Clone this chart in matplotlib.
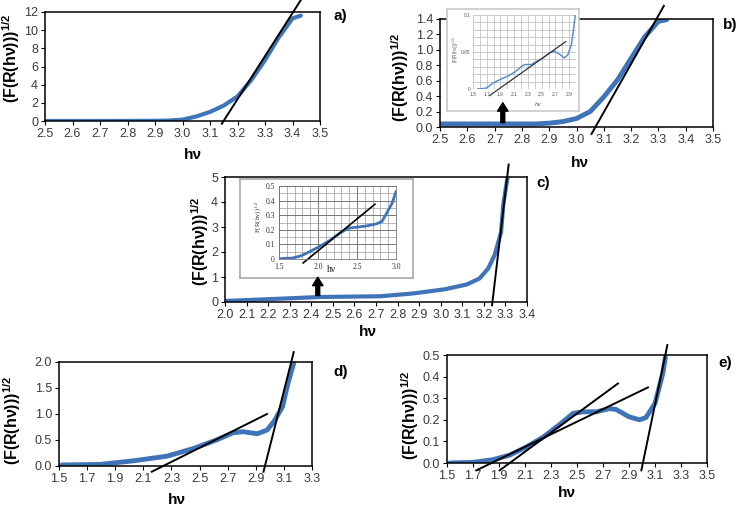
import matplotlib
matplotlib.use('Agg')
import matplotlib.pyplot as plt
from matplotlib.patches import FancyArrowPatch
import numpy as np

plt.rcParams.update({'font.family': ['Liberation Sans', 'DejaVu Sans'], 'font.size': 9})

W, H = 741, 508

# panel a
a_x = [2.5, 2.7, 2.9, 2.95, 3.0, 3.05, 3.1, 3.15, 3.2, 3.25, 3.3, 3.35, 3.4, 3.43]
a_y = [0.0, 0.0, 0.02, 0.05, 0.15, 0.5, 1.0, 1.7, 2.7, 4.5, 6.7, 9.2, 11.3, 11.6]
a_tan_x = [3.143, 3.43]
a_tan_y = [-0.3, 13.3]

# panel b
b_x = [2.5, 2.7, 2.85, 2.9, 2.95, 3.0, 3.05, 3.1, 3.15, 3.2, 3.25, 3.3, 3.33]
b_y = [0.04, 0.04, 0.04, 0.05, 0.07, 0.11, 0.2, 0.39, 0.61, 0.89, 1.17, 1.37, 1.39]
b_tan_x = [3.055, 3.32]
b_tan_y = [-0.09, 1.57]
b_in_x = [1.57, 1.69, 1.79, 1.91, 2.01, 2.11, 2.2, 2.25, 2.35, 2.42, 2.52, 2.62, 2.69, 2.76, 2.83, 2.88, 2.93, 2.96, 2.99]
b_in_y = [0.0, 0.001, 0.008, 0.0135, 0.0175, 0.023, 0.030, 0.033, 0.033, 0.037, 0.042, 0.049, 0.051, 0.047, 0.042, 0.046, 0.059, 0.077, 0.1]
b_in_tan_x = [1.74, 2.85]
b_in_tan_y = [-0.009, 0.064]
b_arrow = (2.73, 0.02, 0.35)

# panel c
c_x = [2.0, 2.25, 2.44, 2.72, 2.87, 3.02, 3.12, 3.18, 3.22, 3.25, 3.28, 3.29, 3.31]
c_y = [0.04, 0.13, 0.2, 0.23, 0.34, 0.51, 0.7, 0.94, 1.34, 1.88, 2.8, 3.9, 5.0]
c_tan_x = [3.238, 3.315]
c_tan_y = [-0.13, 5.5]
c_in_x = [1.5, 1.68, 1.79, 1.9, 2.02, 2.15, 2.28, 2.39, 2.5, 2.63, 2.75, 2.82, 2.88, 2.95, 3.0]
c_in_y = [0.002, 0.007, 0.023, 0.052, 0.086, 0.127, 0.177, 0.211, 0.218, 0.227, 0.241, 0.257, 0.314, 0.382, 0.461]
c_in_tan_x = [1.81, 2.73]
c_in_tan_y = [-0.027, 0.375]
c_arrow = (2.43, 0.15, 1.1)

# panel d
d_x = [1.52, 1.79, 2.03, 2.27, 2.46, 2.62, 2.74, 2.81, 2.91, 2.98, 3.03, 3.09, 3.13, 3.17]
d_y = [0.02, 0.03, 0.1, 0.19, 0.34, 0.5, 0.64, 0.66, 0.62, 0.69, 0.86, 1.14, 1.6, 1.98]
d_tan1_x = [2.16, 2.98]
d_tan1_y = [-0.11, 1.0]
d_tan2_x = [2.955, 3.17]
d_tan2_y = [-0.11, 2.19]

# panel e
e_x = [1.52, 1.7, 1.85, 1.98, 2.11, 2.24, 2.37, 2.47, 2.55, 2.65, 2.75, 2.8, 2.9, 2.98, 3.03, 3.1, 3.16, 3.18]
e_y = [0.0, 0.003, 0.015, 0.036, 0.074, 0.12, 0.18, 0.23, 0.237, 0.237, 0.252, 0.248, 0.214, 0.2, 0.21, 0.276, 0.415, 0.49]
e_tan1_x = [1.726, 3.046]
e_tan1_y = [-0.034, 0.35]
e_tan2_x = [1.905, 2.815]
e_tan2_y = [-0.034, 0.368]
e_tan3_x = [2.995, 3.195]
e_tan3_y = [-0.034, 0.546]

BLUE = '#3f74b8'
TICK_C = '#3a3a3a'
YLAB = r'(F(R(hν)))$\mathregular{^{1/2}}$'

fig = plt.figure(figsize=(W / 100, H / 100), dpi=100)


def box(l, r, t, b, z=0):
    ax = fig.add_axes([l / W, 1 - b / H, (r - l) / W, (b - t) / H])
    ax.set_zorder(z)
    return ax


def style_main(ax, xt, xlim, yt, ylim, yfmt):
    ax.set_xlim(*xlim)
    ax.set_ylim(*ylim)
    ax.set_xticks(xt)
    ax.set_xticklabels(['%.1f' % v for v in xt])
    ax.set_yticks(yt)
    ax.set_yticklabels([yfmt % v for v in yt])
    ax.tick_params(length=3, width=0.8, pad=2, labelsize=9, colors='black', labelcolor=TICK_C)
    for s in ax.spines.values():
        s.set_linewidth(1.1)


def tangent(ax, xs, ys):
    ax.plot(xs, ys, color='black', lw=1.4, clip_on=False, zorder=4)


def px(x, y):
    return x / W, 1 - y / H


def labels(ax, ylx, yly, xlx, xly, tag, tx, ty):
    fig.text(*px(ylx, yly), YLAB, rotation=90, ha='center', va='center',
             fontsize=11.5, fontweight='bold')
    fig.text(*px(xlx, xly), 'hν', ha='center', va='center', fontsize=11, fontweight='bold')
    fig.text(*px(tx, ty), tag, ha='center', va='center', fontsize=11, fontweight='bold')


def arrow(ax, spec):
    x, y0, y1 = spec
    ar = FancyArrowPatch((x, y0), (x, y1), transform=ax.transData,
                         arrowstyle='simple,head_length=0.6,head_width=0.75,tail_width=0.28',
                         mutation_scale=10, color='black', zorder=10)
    fig.add_artist(ar)


# a)
ax = box(45, 320, 12, 121)
ax.plot(a_x, a_y, color=BLUE, lw=3, solid_capstyle='round')
tangent(ax, a_tan_x, a_tan_y)
style_main(ax, np.arange(2.5, 3.51, 0.1), (2.5, 3.5), np.arange(0, 13, 2), (0, 12), '%d')
labels(ax, 11, 58, 193, 155, 'a)', 340, 16)

# b)
ax = box(440, 713, 19, 127)
ax.plot(b_x, b_y, color=BLUE, lw=3.5, solid_capstyle='round')
tangent(ax, b_tan_x, b_tan_y)
style_main(ax, np.arange(2.5, 3.51, 0.1), (2.5, 3.5), np.arange(0, 1.41, 0.2), (0, 1.4), '%.1f')
labels(ax, 400, 77, 580, 163, 'b)', 730, 25)
arrow(ax, b_arrow)

fr = box(447, 579, 9, 111, z=2)
fr.set_xticks([])
fr.set_yticks([])
for s in fr.spines.values():
    s.set_color('#c8c8c8')
    s.set_linewidth(1.2)
ins = box(473, 576, 15, 89, z=3)
ins.set_xlim(1.5, 3.0)
ins.set_ylim(0, 0.1)
ins.set_xticks(np.arange(1.5, 2.91, 0.2))
ins.set_xticklabels(['%.1f' % v for v in np.arange(1.5, 2.91, 0.2)])
ins.set_yticks([0, 0.05, 0.1])
ins.set_yticklabels(['0', '0.05', '0.1'])
ins.set_xticks(np.arange(1.5, 3.01, 0.1), minor=True)
ins.set_yticks(np.arange(0, 0.101, 0.01), minor=True)
ins.grid(which='both', color='#b8b8b8', lw=0.5)
ins.tick_params(which='both', length=0, labelsize=3.5, pad=2, labelcolor='#555555')
for s in ins.spines.values():
    s.set_visible(False)
ins.plot(b_in_x, b_in_y, color='#5b8fd0', lw=1.1)
ins.plot(b_in_tan_x, b_in_tan_y, color='#333333', lw=0.9, clip_on=False)
fig.text(*px(456, 50), r'(F(R(hν)))$\mathregular{^{1/2}}$', rotation=90, ha='center', va='center',
         fontsize=3.3, color='#555555')
fig.text(*px(538, 104), 'hν', ha='center', va='center', fontsize=4.5, style='italic', color='#555555')

# c)
ax = box(225, 527, 177, 302)
ax.plot(c_x, c_y, color=BLUE, lw=3, solid_capstyle='round')
tangent(ax, c_tan_x, c_tan_y)
style_main(ax, np.arange(2.0, 3.41, 0.1), (2.0, 3.4), np.arange(0, 6, 1), (0, 5), '%d')
labels(ax, 200, 241, 368, 332, 'c)', 543, 183)
arrow(ax, c_arrow)

fr = box(240, 413, 179, 278, z=2)
fr.set_xticks([])
fr.set_yticks([])
for s in fr.spines.values():
    s.set_color('#a8a8a8')
    s.set_linewidth(1.2)
ins = box(279, 396, 186, 259, z=3)
ins.set_xlim(1.5, 3.0)
ins.set_ylim(0, 0.5)
ins.set_xticks([1.5, 2.0, 2.5, 3.0])
ins.set_xticklabels(['1.5', '2.0', '2.5', '3.0'])
ins.set_yticks(np.arange(0, 0.51, 0.1))
ins.set_yticklabels(['0', '0.1', '0.2', '0.3', '0.4', '0.5'])
ins.set_xticks(np.arange(1.5, 3.01, 0.1), minor=True)
ins.set_yticks(np.arange(0, 0.51, 0.05), minor=True)
ins.grid(which='minor', color='#9a9a9a', lw=0.5)
ins.grid(which='major', color='#777777', lw=0.7)
ins.tick_params(which='both', length=0, labelsize=5.5, pad=3, labelcolor='#333333')
for lab in ins.get_xticklabels() + ins.get_yticklabels():
    lab.set_family('Liberation Serif')
for s in ins.spines.values():
    s.set_color('#777777')
    s.set_linewidth(0.6)
ins.plot(c_in_x, c_in_y, color=BLUE, lw=2)
ins.plot(c_in_tan_x, c_in_tan_y, color='black', lw=1.2, clip_on=False)
fig.text(*px(258, 217), r'F(R(hν))$\mathregular{^{1/2}}$', rotation=90, ha='center', va='center',
         fontsize=5, family='Liberation Serif', color='#333333')
fig.text(*px(332, 270), 'hν', ha='center', va='center', fontsize=7, family='Liberation Serif',
         color='#222222')

# d)
ax = box(59, 312, 362, 466)
ax.plot(d_x, d_y, color=BLUE, lw=3.5, solid_capstyle='round')
tangent(ax, d_tan1_x, d_tan1_y)
tangent(ax, d_tan2_x, d_tan2_y)
style_main(ax, np.arange(1.5, 3.31, 0.2), (1.5, 3.3), np.arange(0, 2.01, 0.5), (0, 2.0), '%.1f')
labels(ax, 12, 420, 177, 500, 'd)', 341, 372)

# e)
ax = box(447, 707, 355, 463)
ax.plot(e_x, e_y, color=BLUE, lw=3.5, solid_capstyle='round')
tangent(ax, e_tan1_x, e_tan1_y)
tangent(ax, e_tan2_x, e_tan2_y)
tangent(ax, e_tan3_x, e_tan3_y)
style_main(ax, np.arange(1.5, 3.51, 0.2), (1.5, 3.5), np.arange(0, 0.51, 0.1), (0, 0.5), '%.1f')
labels(ax, 410, 415, 567, 493, 'e)', 725, 363)

fig.savefig('out.png', dpi=100)
